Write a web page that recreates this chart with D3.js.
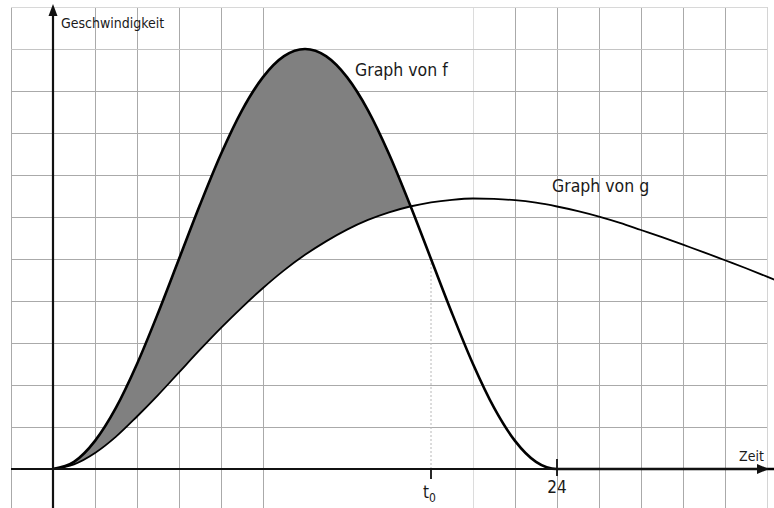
<!DOCTYPE html>
<html>
<head>
<meta charset="utf-8">
<script src="https://cdn.jsdelivr.net/npm/d3@7"></script>
<style>
  html, body { margin: 0; padding: 0; background: #fff; }
  svg { display: block; }
  text { font-family: "DejaVu Sans Condensed", "DejaVu Sans", sans-serif; fill: #1a1a1a; }
</style>
</head>
<body>
<svg id="chart" width="774" height="508"></svg>
<script>
// time samples (one grid column = 2 time units)
const times = [0,1,2,3,4,5,6,7,8,9,10,11,12,13,14,15,16,17,18,19,20,21,22,23,24,25,26,27,28,29,30,31,32,33,34,35];
// speed of f (zero from t = 24 on)
const fValues = [0,0.17,0.67,1.46,2.5,3.71,5,6.29,7.5,8.54,9.33,9.83,10,9.83,9.33,8.54,7.5,6.29,5,3.71,2.5,1.46,0.67,0.17,0,0,0,0,0,0,0,0,0,0,0,0];
// speed of g
const gValues = [0,0.11,0.38,0.77,1.25,1.76,2.3,2.84,3.36,3.85,4.31,4.73,5.1,5.42,5.7,5.93,6.11,6.25,6.35,6.41,6.44,6.43,6.4,6.34,6.25,6.14,6.01,5.86,5.69,5.52,5.34,5.16,4.97,4.78,4.58,4.38];
// marked times on the time axis
const tickTimes = [18, 24];
const tickLabels = ["t", "24"];
const t0 = 18;
// grid positions
const gridTimes = [-2,0,2,4,6,8,10,20,22,24,26,28,30,32,34];
const gridValues = [1,2,3,4,5,6,7,8,9,10,11];

const svg = d3.select("#chart");
const x = d3.scaleLinear().domain([0, 24]).range([53, 557]);
const y = d3.scaleLinear().domain([0, 10]).range([469, 49]);

const gridLeft = x(-2), gridRight = x(34), gridTop = y(11), gridBottom = 508;

// grid
const grid = svg.append("g").attr("shape-rendering", "crispEdges");
grid.selectAll("line.v").data(gridTimes).join("line")
  .attr("x1", d => x(d)).attr("x2", d => x(d))
  .attr("y1", gridTop).attr("y2", gridBottom)
  .attr("stroke", d => d === 20 ? "#dcdcdc" : (d === 34 ? "#d4d4d4" : "#aaaaaa"))
  .attr("stroke-width", 1);
grid.selectAll("line.h").data(gridValues).join("line")
  .attr("x1", gridLeft).attr("x2", gridRight)
  .attr("y1", d => y(d)).attr("y2", d => y(d))
  .attr("stroke", d => d === 11 ? "#d8d8d8" : (d === 10 ? "#c4c4c4" : "#aaaaaa"))
  .attr("stroke-width", 1);

const pts = times.map((t, i) => ({ t, f: fValues[i], g: gValues[i] }));

// crossing of f and g after the start
let tCross = times[times.length - 1];
for (let i = 2; i < pts.length; i++) {
  const a = pts[i - 1].f - pts[i - 1].g, b = pts[i].f - pts[i].g;
  if (a > 0 && b <= 0) { tCross = pts[i - 1].t + a / (a - b) * (pts[i].t - pts[i - 1].t); break; }
}

svg.append("clipPath").attr("id", "between")
  .append("rect").attr("x", x(0)).attr("y", 0)
  .attr("width", x(tCross) - x(0)).attr("height", 508);

// shaded area between f and g
svg.append("path")
  .datum(pts)
  .attr("clip-path", "url(#between)")
  .attr("fill", "#808080")
  .attr("d", d3.area().x(d => x(d.t)).y0(d => y(d.g)).y1(d => y(d.f)).curve(d3.curveMonotoneX));

// dotted line at t0
svg.append("line")
  .attr("x1", x(t0)).attr("x2", x(t0))
  .attr("y1", y(fValues[times.indexOf(t0)])).attr("y2", y(0))
  .attr("stroke", "#b8b8b8").attr("stroke-width", 1).attr("stroke-dasharray", "2,2");

// curves
svg.append("path").datum(pts)
  .attr("fill", "none").attr("stroke", "#000").attr("stroke-width", 1.8)
  .attr("d", d3.line().x(d => x(d.t)).y(d => y(d.g)).curve(d3.curveMonotoneX));
svg.append("path").datum(pts)
  .attr("fill", "none").attr("stroke", "#000").attr("stroke-width", 2.6)
  .attr("d", d3.line().x(d => x(d.t)).y(d => y(d.f)).curve(d3.curveMonotoneX));

// axes
const axisColor = "#111";
svg.append("line").attr("x1", gridLeft).attr("x2", 762).attr("y1", y(0)).attr("y2", y(0))
  .attr("stroke", axisColor).attr("stroke-width", 2.2);
svg.append("path").attr("d", `M769,${y(0)} L757,${y(0) - 5} L757,${y(0) + 5} Z`).attr("fill", axisColor);
svg.append("line").attr("x1", x(0)).attr("x2", x(0)).attr("y1", gridBottom).attr("y2", 12)
  .attr("stroke", axisColor).attr("stroke-width", 2.2);
svg.append("path").attr("d", `M${x(0)},4 L${x(0) - 4.5},16 L${x(0) + 4.5},16 Z`).attr("fill", axisColor);

// ticks on the time axis
svg.append("line").attr("x1", x(tickTimes[0])).attr("x2", x(tickTimes[0]))
  .attr("y1", y(0)).attr("y2", y(0) + 10).attr("stroke", axisColor).attr("stroke-width", 1.8);
svg.append("line").attr("x1", x(tickTimes[1])).attr("x2", x(tickTimes[1]))
  .attr("y1", y(0) - 10).attr("y2", y(0) + 7).attr("stroke", axisColor).attr("stroke-width", 1.8);

const tLab = svg.append("text").attr("x", x(tickTimes[0]) - 8).attr("y", 498).attr("font-size", 17);
tLab.append("tspan").text(tickLabels[0]);
tLab.append("tspan").attr("dy", 4).attr("font-size", 12).text("0");
svg.append("text").attr("x", x(tickTimes[1])).attr("y", 493).attr("text-anchor", "middle")
  .attr("font-size", 17).text(tickLabels[1]);

// labels
svg.append("text").attr("x", 61).attr("y", 28).attr("font-size", 14).text("Geschwindigkeit");
svg.append("text").attr("x", 739).attr("y", 461).attr("font-size", 14).text("Zeit");
svg.append("text").attr("x", 355).attr("y", 76).attr("font-size", 17.5).text("Graph von f");
svg.append("text").attr("x", 552).attr("y", 192).attr("font-size", 17.5).text("Graph von g");
</script>
</body>
</html>
